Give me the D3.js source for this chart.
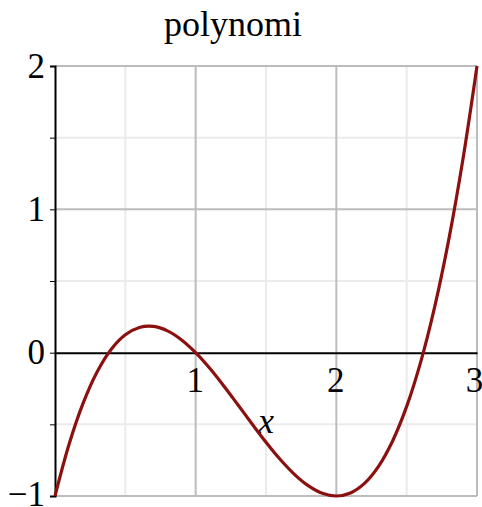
<!DOCTYPE html>
<html>
<head>
<meta charset="utf-8">
<script src="https://cdn.jsdelivr.net/npm/d3@7"></script>
<style>
  body { margin: 0; background: #fff; }
  svg { display: block; }
  text { font-family: "Liberation Serif", "Times New Roman", serif; fill: #000; }
</style>
</head>
<body>
<svg id="chart" width="482" height="507"></svg>
<script>
// curve samples
const xs = [0, 0.1, 0.2, 0.3, 0.4, 0.5, 0.6, 0.7, 0.8, 0.9, 1.0,
            1.1, 1.2, 1.3, 1.4, 1.5, 1.6, 1.7, 1.8, 1.9, 2.0,
            2.1, 2.2, 2.3, 2.4, 2.5, 2.6, 2.7, 2.8, 2.9, 3.0];
const ys = [-1, -0.639, -0.352, -0.133, 0.024, 0.125, 0.176, 0.183, 0.152, 0.089, 0,
            -0.109, -0.232, -0.363, -0.496, -0.625, -0.744, -0.847, -0.928, -0.981, -1,
            -0.979, -0.912, -0.793, -0.616, -0.375, -0.064, 0.323, 0.792, 1.349, 2];

const xMajor = [1, 2, 3];
const xMinor = [0.5, 1.5, 2.5];
const yMajor = [-1, 1, 2];
const yMinor = [-0.5, 0.5, 1.5];
const yTicks = [-1, -0.5, 0, 0.5, 1, 1.5, 2];
const xLabels = [1, 2, 3];

const svg = d3.select("#chart");

const x = d3.scaleLinear().domain([0, 3]).range([55, 477]);
const y = d3.scaleLinear().domain([-1, 2]).range([496, 66]);

// title
svg.append("text")
    .attr("x", 233).attr("y", 36)
    .attr("text-anchor", "middle")
    .style("font-size", "36px")
    .text("polynomi");

const grid = svg.append("g");

function vlines(vals, color) {
    grid.selectAll(null).data(vals).enter().append("line")
        .attr("x1", d => x(d)).attr("x2", d => x(d))
        .attr("y1", y(-1)).attr("y2", y(2))
        .attr("stroke", color).attr("stroke-width", 2);
}
function hlines(vals, color) {
    grid.selectAll(null).data(vals).enter().append("line")
        .attr("x1", x(0)).attr("x2", x(3))
        .attr("y1", d => y(d)).attr("y2", d => y(d))
        .attr("stroke", color).attr("stroke-width", 2);
}
vlines(xMinor, "#ebebeb");
hlines(yMinor, "#ebebeb");
vlines(xMajor, "#bcbcbc");
hlines(yMajor, "#bcbcbc");

// y axis
const yAxis = svg.append("g")
    .attr("transform", `translate(${x(0)},0)`)
    .call(d3.axisLeft(y).tickValues(yTicks).tickSize(5).tickPadding(5)
        .tickFormat(d => Number.isInteger(d) ? d3.format("")(d) : ""));
yAxis.select(".domain").attr("stroke", "#000").attr("stroke-width", 2);
yAxis.selectAll(".tick line").attr("stroke", "#000");
yAxis.selectAll("text")
    .attr("y", d => d === -1 ? -2 : 0)
    .style("font-size", "35px")
    .style("font-family", "'Liberation Serif', serif");

// x axis at y = 0
const xAxis = svg.append("g")
    .attr("transform", `translate(0,${y(0)})`)
    .call(d3.axisBottom(x).tickValues(xLabels).tickSize(0).tickFormat(d3.format("")));
xAxis.select(".domain").attr("stroke", "#000").attr("stroke-width", 2);
xAxis.selectAll("text")
    .attr("y", 39).attr("dy", 0)
    .attr("x", d => d === 3 ? -3 : -1)
    .style("font-size", "35px")
    .style("font-family", "'Liberation Serif', serif");

// axis label
svg.append("text")
    .attr("x", x(1.5)).attr("y", 433)
    .attr("text-anchor", "middle")
    .style("font-size", "36px")
    .style("font-style", "italic")
    .text("x");

// the polynomial curve
const pts = xs.map((d, i) => [d, ys[i]]);
svg.append("path")
    .datum(pts)
    .attr("fill", "none")
    .attr("stroke", "#8b1010")
    .attr("stroke-width", 3.2)
    .attr("d", d3.line().x(d => x(d[0])).y(d => y(d[1])).curve(d3.curveCatmullRom));
</script>
</body>
</html>
